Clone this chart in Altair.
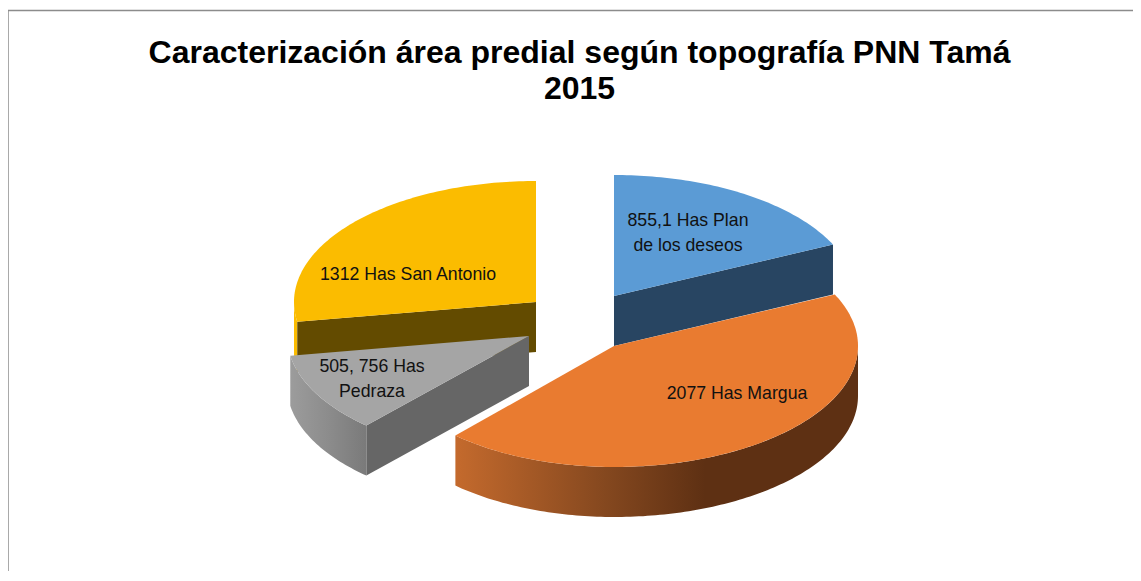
import math
import altair as alt

# ---- data ----
names = ["Plan de los deseos", "Margua", "Pedraza", "San Antonio"]
values = [855.1, 2077, 505.756, 1312]
label_texts = ["855,1 Has Plan\nde los deseos", "2077 Has Margua", "505, 756 Has\nPedraza", "1312 Has San Antonio"]
title_lines = ["Caracterización área predial según topografía PNN Tamá", "2015"]

# ---- styling / layout ----
top_colors = ["#5B9BD5", "#E97B30", "#A5A5A5", "#FBBC00"]
face_colors = ["#284562", "#5E3013", "#666666", "#634B00"]
PAGE_X, PAGE_Y = 8, 10           # view origin on the page
DEPTH = 50
# apex of every exploded slice (page pixels), radii left / right of the apex
apex = [(614, 296), (614, 346), (529, 336), (536, 302)]
rx_right = [242, 244, 242, 242]
rx_left = [242, 236, 242, 242]
RY = 121
label_at = [(688, 221), (737, 394), (372, 367), (408, 275)]


def pt(i, deg, drop=0):
    a = math.radians(deg)
    s = math.sin(a)
    rx = rx_right[i] if s >= 0 else rx_left[i]
    return [apex[i][0] - PAGE_X + rx * s, apex[i][1] - PAGE_Y - RY * math.cos(a) + drop]


def arc(i, a0, a1, drop=0):
    n = max(2, int(abs(a1 - a0)))
    return [pt(i, a0 + (a1 - a0) * k / n, drop) for k in range(n + 1)]


def feat(ring):
    ring = ring + [ring[0]]
    return {"type": "Feature", "properties": {},
            "geometry": {"type": "Polygon", "coordinates": [ring]}}


total = sum(values)
starts, a = [], 0.0
for v in values:
    starts.append(a)
    a += v / total * 360
ends = starts[1:] + [360.0]

proj = alt.Projection(type="identity", scale=1, translate=[0, 0])
W, H = 1125, 561


def shape(features, fill):
    return alt.Chart(alt.Data(values=features)).mark_geoshape(
        fill=fill, stroke=None, strokeWidth=0
    ).project(**proj.to_dict())


def flat(i):
    """Top of slice i, as one polygon."""
    c = [apex[i][0] - PAGE_X, apex[i][1] - PAGE_Y]
    return feat([c] + arc(i, starts[i], ends[i]))


def face(i, deg):
    """Flat cut face from the apex to the rim at angle deg."""
    c = [apex[i][0] - PAGE_X, apex[i][1] - PAGE_Y]
    rim = pt(i, deg)
    return feat([c, rim, [rim[0], rim[1] + DEPTH], [c[0], c[1] + DEPTH]])


def rim(i, a0, a1):
    return feat(arc(i, a0, a1) + arc(i, a1, a0, DEPTH))


def grad(stops):
    return alt.Gradient(gradient="linear", x1=0, x2=1, y1=0, y2=0,
                        stops=[alt.GradientStop(offset=o, color=c) for o, c in stops])


layers = []

# San Antonio (yellow)
layers.append(shape([rim(3, starts[3], 270)], top_colors[3]))
layers.append(shape([face(3, starts[3])], face_colors[3]))
layers.append(shape([flat(3)], top_colors[3]))

# Pedraza (grey)
layers.append(shape([rim(2, starts[2], ends[2])],
                    grad([(0, "#9C9C9C"), (0.5, "#8C8C8C"), (1, "#7A7A7A")])))
layers.append(shape([face(2, starts[2])], face_colors[2]))
layers.append(shape([flat(2)], top_colors[2]))

# Plan de los deseos (blue)
layers.append(shape([face(0, ends[0])], face_colors[0]))
layers.append(shape([flat(0)], top_colors[0]))

# Margua (orange)
layers.append(shape([rim(1, 90, ends[1])],
                    grad([(0, "#C46A2D"), (0.37, "#85481F"), (0.62, "#5E3013"), (1, "#5E3013")])))
layers.append(shape([flat(1)], top_colors[1]))

# frame: top and left hairlines
frame = alt.Chart(alt.Data(values=[{"x": 0, "y": 0}])).mark_rule(color="#8C8C8C", strokeWidth=1.5)
layers.append(frame.encode(x=alt.value(0), x2=alt.value(W), y=alt.value(0.5)))
layers.append(frame.encode(x=alt.value(0), y=alt.value(0), y2=alt.value(H)))

# labels
label_rows = [{"t": t, "px": p[0] - PAGE_X, "py": p[1] - PAGE_Y, "name": n}
              for t, p, n in zip(label_texts, label_at, names)]
layers.append(
    alt.Chart(alt.Data(values=label_rows)).mark_text(
        font="Liberation Sans", fontSize=17.7, color="#111111",
        align="center", baseline="middle", lineBreak="\n", lineHeight=24.5
    ).encode(
        x=alt.X("px:Q", scale=None, axis=None),
        y=alt.Y("py:Q", scale=None, axis=None),
        text="t:N",
    )
)

chart = alt.layer(*layers).properties(
    width=W, height=H,
    padding={"left": 0, "top": 2, "right": 0, "bottom": 0},
    autosize=alt.AutoSizeParams(type="none"),
    background="white",
    title=alt.TitleParams(
        text=title_lines, font="Liberation Sans", fontSize=32, fontWeight="bold",
        color="#000000", anchor="middle", frame="group", dx=9, offset=-97, lineHeight=36,
    ),
).configure_view(stroke=None)

chart.save("out.html", embed_options={"renderer": "svg", "actions": False})
